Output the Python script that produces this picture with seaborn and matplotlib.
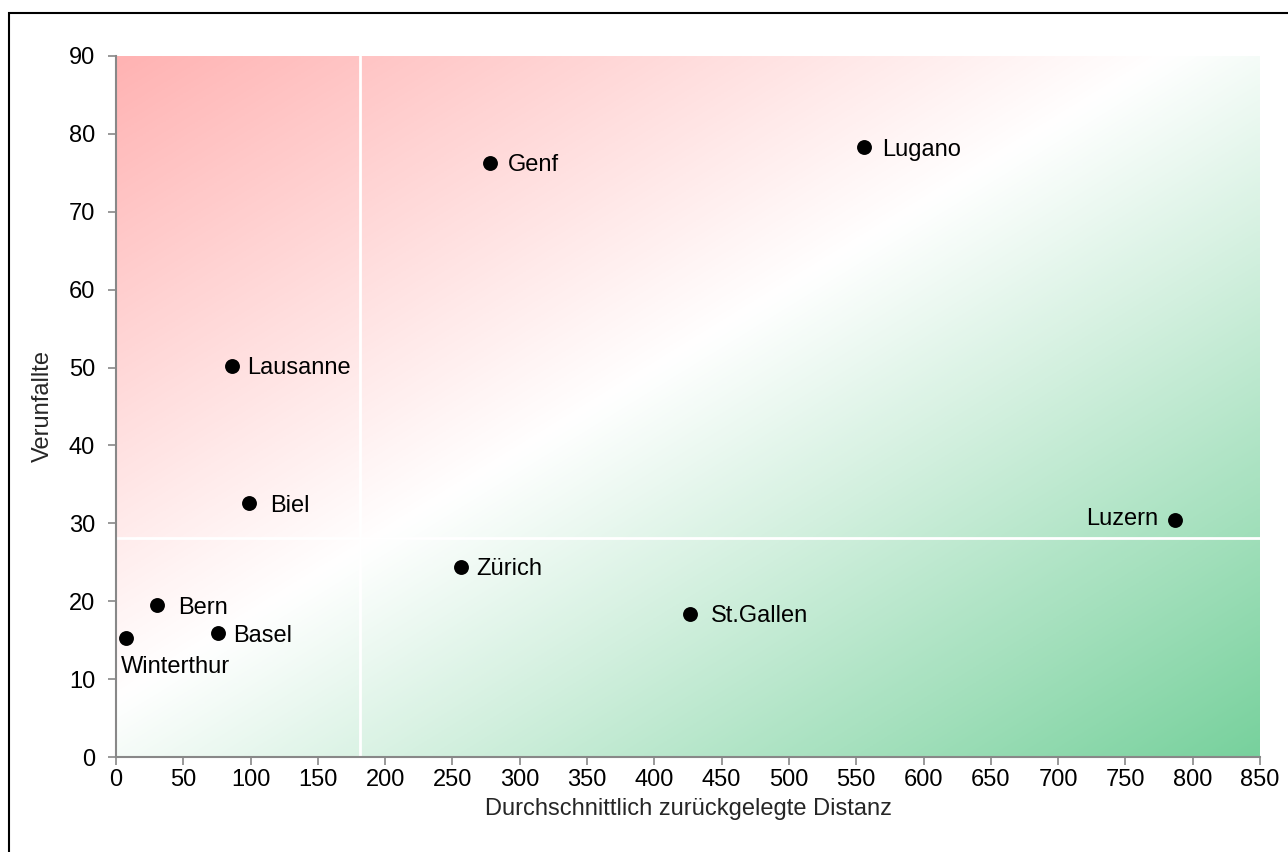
import numpy as np
import pandas as pd
import matplotlib
matplotlib.use("Agg")
import matplotlib.pyplot as plt
import seaborn as sns
from matplotlib.colors import LinearSegmentedColormap
from matplotlib.patches import Rectangle

# ---- data ----
cities = ["Winterthur", "Bern", "Basel", "Biel", "Lausanne", "Genf", "Lugano", "Zürich", "St.Gallen", "Luzern"]
distance = [7.4, 30.5, 75.8, 98.8, 86.2, 277.9, 555.8, 256.3, 426.5, 786.8]
accidents = [15.3, 19.5, 15.9, 32.6, 50.2, 76.3, 78.3, 24.4, 18.4, 30.4]
x_split = 181
y_split = 28.1
x_ticks = list(range(0, 851, 50))
y_ticks = list(range(0, 91, 10))
x_label = "Durchschnittlich zurückgelegte Distanz"
y_label = "Verunfallte"

df = pd.DataFrame({"city": cities, "x": distance, "y": accidents})

# label offsets in points (layout)
offsets = {
    "Winterthur": (-4, -19, "left"),
    "Genf": (13, 0, "left"),
    "Lugano": (13, 0, "left"),
    "Lausanne": (11, 0, "left"),
    "Biel": (15, 0, "left"),
    "Bern": (15, 0, "left"),
    "Basel": (11, 0, "left"),
    "Zürich": (11, 0, "left"),
    "St.Gallen": (15, 0, "left"),
    "Luzern": (-12, 3, "right"),
}

sns.set_style("white")
plt.rcParams["font.family"] = ["Liberation Sans", "DejaVu Sans"]

FS = 17

fig = plt.figure(figsize=(12.88, 8.52), dpi=100)
ax = fig.add_axes([116 / 1288, 1 - 757 / 852, (1260 - 116) / 1288, (757 - 56) / 852])

# gradient background
cmap = LinearSegmentedColormap.from_list(
    "bg", [(0.0, "#FFB3B3"), (0.46, "#FFFFFF"), (1.0, "#78D19D")])
n = 400
u = np.linspace(0, 1, n)
U, V = np.meshgrid(u, u)  # V: 0 top -> 1 bottom
T = (U + V) / 2
ax.imshow(T, cmap=cmap, vmin=0, vmax=1, extent=[0, 850, 0, 90],
          origin="upper", aspect="auto", zorder=0, interpolation="bilinear")

ax.axvline(x_split, color="white", lw=2, zorder=1)
ax.axhline(y_split, color="white", lw=2, zorder=1)

sns.scatterplot(data=df, x="x", y="y", ax=ax, color="black", s=115,
                edgecolor="black", linewidth=0, zorder=3)

for c, xv, yv in zip(cities, distance, accidents):
    dx, dy, ha = offsets[c]
    ax.annotate(c, (xv, yv), xytext=(dx, dy), textcoords="offset points",
                ha=ha, va="center_baseline", fontsize=FS, color="black", zorder=4)

ax.set_xlim(0, 850)
ax.set_ylim(0, 90)
ax.set_xticks(x_ticks)
ax.set_yticks(y_ticks)
ax.tick_params(axis="both", labelsize=FS, colors="black", length=6, width=1.2,
               direction="out", left=True, bottom=True)
ax.tick_params(axis="y", pad=9)
ax.tick_params(axis="x", pad=3)
ax.tick_params(axis="both", color="#888888")
for s in ["top", "right"]:
    ax.spines[s].set_visible(False)
for s in ["left", "bottom"]:
    ax.spines[s].set_color("#888888")
    ax.spines[s].set_linewidth(1.5)
ax.set_xlabel(x_label, fontsize=FS, labelpad=5)
ax.set_ylabel(y_label, fontsize=FS, labelpad=11)

fig.patches.append(Rectangle((9 / 1288, -1), 2, 1 + (1 - 13 / 852), transform=fig.transFigure,
                             fill=False, edgecolor="black", linewidth=1.5))

fig.savefig("out.png", dpi=100)
